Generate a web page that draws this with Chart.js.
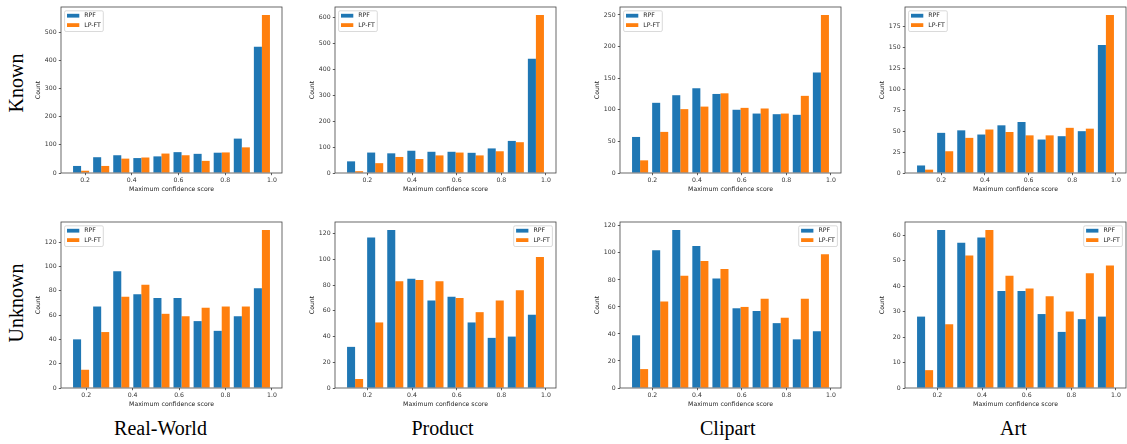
<!DOCTYPE html>
<html>
<head>
<meta charset="utf-8">
<script src="https://cdn.jsdelivr.net/npm/chart.js@4"></script>
<style>
  html, body { margin: 0; padding: 0; background: #fff; overflow: hidden; }
  body { width: 1127px; height: 444px; position: relative; }
  canvas { position: absolute; }
  .lbl {
    position: absolute; width: 140px; height: 20px; line-height: 20px;
    font-family: "Liberation Serif", "Times New Roman", serif; font-size: 20px;
    text-align: center; white-space: nowrap; color: #000;
  }
  .rot { transform: rotate(-90deg); }
</style>
</head>
<body>
<div class="lbl rot" style="left:-53.75px; top:73.3px;">Known</div>
<div class="lbl rot" style="left:-53.75px; top:293.3px;">Unknown</div>
<div class="lbl" style="left:90.5px; top:418px;">Real-World</div>
<div class="lbl" style="left:372.5px; top:418px;">Product</div>
<div class="lbl" style="left:657.8px; top:418px;">Clipart</div>
<div class="lbl" style="left:943.3px; top:418px;">Art</div>

<script>
const seriesNames = ['RPF', 'LP-FT'];
const xTitle = 'Maximum confidence score';
const yTitle = 'Count';
const xTicks = [0.2, 0.4, 0.6, 0.8, 1.0];

// histogram ranges (first bin edge, last bin edge), 10 bins each
const rwKnownRange = [0.14, 1.0];
const rwUnknownRange = [0.135, 1.0];
const productKnownRange = [0.1, 1.0];
const productUnknownRange = [0.1, 1.0];
const clipartKnownRange = [0.1, 1.0];
const clipartUnknownRange = [0.1, 1.0];
const artKnownRange = [0.08, 1.0];
const artUnknownRange = [0.1, 1.0];

// counts per bin
const rwKnownRPF = [25, 56, 63, 53, 59, 74, 68, 72, 122, 448];
const rwKnownLPFT = [8, 25, 51, 55, 69, 63, 43, 73, 91, 561];
const rwUnknownRPF = [40, 67, 96, 77, 74, 74, 55, 47, 59, 82];
const rwUnknownLPFT = [15, 46, 75, 85, 61, 59, 66, 67, 67, 130];
const productKnownRPF = [45, 79, 76, 86, 82, 82, 78, 95, 124, 442];
const productKnownLPFT = [7, 38, 62, 54, 68, 79, 68, 84, 119, 611];
const productUnknownRPF = [32, 117, 123, 85, 68, 71, 51, 39, 40, 57];
const productUnknownLPFT = [7, 51, 83, 84, 83, 70, 59, 68, 76, 102];
const clipartKnownRPF = [57, 111, 123, 134, 125, 100, 94, 93, 92, 159];
const clipartKnownLPFT = [20, 65, 101, 105, 126, 103, 102, 94, 122, 250];
const clipartUnknownRPF = [39, 102, 117, 105, 81, 59, 57, 48, 36, 42];
const clipartUnknownLPFT = [14, 64, 83, 94, 88, 60, 66, 52, 66, 99];
const artKnownRPF = [9, 48, 51, 46, 57, 61, 40, 44, 50, 153];
const artKnownLPFT = [4, 26, 42, 52, 49, 45, 45, 54, 53, 189];
const artUnknownRPF = [28, 62, 57, 59, 38, 38, 29, 22, 27, 28];
const artUnknownLPFT = [7, 25, 52, 62, 44, 39, 36, 30, 45, 48];

// y tick labels
const yTicksRWKnown = [0, 100, 200, 300, 400, 500];
const yTicksRWUnknown = [0, 20, 40, 60, 80, 100, 120];
const yTicksProductKnown = [0, 100, 200, 300, 400, 500, 600];
const yTicksProductUnknown = [0, 20, 40, 60, 80, 100, 120];
const yTicksClipartKnown = [0, 50, 100, 150, 200, 250];
const yTicksClipartUnknown = [0, 20, 40, 60, 80, 100, 120];
const yTicksArtKnown = [0, 25, 50, 75, 100, 125, 150, 175];
const yTicksArtUnknown = [0, 10, 20, 30, 40, 50, 60];

const colors = ['#1f77b4', '#ff7f0e'];
const FONT = "'DejaVu Sans', sans-serif";
const SMALL = 6.2;
const Y_AXIS_W = 26, PAD_TOP = 8, X_AXIS_H = 20, PAD_RIGHT = 1;

// frame = [left, top, right, bottom] of each plot box
const panels = [
  { frame: [61, 7, 282, 173], range: rwKnownRange, a: rwKnownRPF, b: rwKnownLPFT, yTicks: yTicksRWKnown, legend: 'left' },
  { frame: [335, 7, 556, 173], range: productKnownRange, a: productKnownRPF, b: productKnownLPFT, yTicks: yTicksProductKnown, legend: 'left' },
  { frame: [620, 7, 841, 173], range: clipartKnownRange, a: clipartKnownRPF, b: clipartKnownLPFT, yTicks: yTicksClipartKnown, legend: 'left' },
  { frame: [905, 7, 1126, 173], range: artKnownRange, a: artKnownRPF, b: artKnownLPFT, yTicks: yTicksArtKnown, legend: 'left' },
  { frame: [61, 222, 282, 388], range: rwUnknownRange, a: rwUnknownRPF, b: rwUnknownLPFT, yTicks: yTicksRWUnknown, legend: 'left' },
  { frame: [335, 222, 556, 388], range: productUnknownRange, a: productUnknownRPF, b: productUnknownLPFT, yTicks: yTicksProductUnknown, legend: 'right' },
  { frame: [620, 222, 841, 388], range: clipartUnknownRange, a: clipartUnknownRPF, b: clipartUnknownLPFT, yTicks: yTicksClipartUnknown, legend: 'right' },
  { frame: [905, 222, 1126, 388], range: artUnknownRange, a: artUnknownRPF, b: artUnknownLPFT, yTicks: yTicksArtUnknown, legend: 'right' },
];

// box around the axes + matplotlib style legend
const mplFrame = {
  id: 'mplFrame',
  afterDatasetsDraw(chart, args, opts) {
    const ctx = chart.ctx, a = chart.chartArea;
    ctx.save();
    ctx.strokeStyle = '#444';
    ctx.lineWidth = 0.8;
    ctx.strokeRect(a.left, a.top, a.right - a.left, a.bottom - a.top);

    ctx.font = SMALL + 'px ' + FONT;
    const ds = chart.data.datasets;
    const tw = Math.max(...ds.map(d => ctx.measureText(d.label).width));
    const bw = 19.7 + tw + 2.5, bh = 20.7;
    const bx = opts.corner === 'right' ? a.right - 3.6 - bw : a.left + 3.6;
    const by = a.top + 3.8;
    ctx.beginPath();
    ctx.roundRect(bx, by, bw, bh, 1.5);
    ctx.fillStyle = 'rgba(255,255,255,0.8)';
    ctx.fill();
    ctx.strokeStyle = '#d0d0d0';
    ctx.lineWidth = 0.8;
    ctx.stroke();
    ds.forEach((d, i) => {
      const cy = by + 4.9 + i * 9.4;
      ctx.fillStyle = d.backgroundColor;
      ctx.fillRect(bx + 2.4, cy - 1.9, 12.3, 3.8);
      ctx.fillStyle = '#222';
      ctx.textAlign = 'left';
      ctx.textBaseline = 'middle';
      ctx.fillText(d.label, bx + 19.7, cy);
    });
    ctx.restore();
  }
};

panels.forEach(p => {
  const [fl, ft, fr, fb] = p.frame;
  const cv = document.createElement('canvas');
  const w = fr - fl + Y_AXIS_W + PAD_RIGHT;
  const h = fb - ft + PAD_TOP + X_AXIS_H;
  cv.width = w; cv.height = h;
  cv.style.left = (fl - Y_AXIS_W) + 'px';
  cv.style.top = (ft - PAD_TOP) + 'px';
  cv.style.width = w + 'px'; cv.style.height = h + 'px';
  document.body.appendChild(cv);

  const [lo, hi] = p.range;
  const bw = (hi - lo) / p.a.length;
  const centers = p.a.map((_, i) => lo + (i + 0.5) * bw);
  const margin = 0.05 * (hi - lo);
  const ymax = 1.05 * Math.max(...p.a, ...p.b);

  const tickFont = { family: FONT, size: SMALL };
  const grid = { display: true, drawOnChartArea: false, drawTicks: true, tickLength: 2.2, tickColor: '#333', tickWidth: 0.8, offset: false };

  new Chart(cv, {
    type: 'bar',
    data: {
      datasets: [p.a, p.b].map((vals, k) => ({
        label: seriesNames[k],
        backgroundColor: colors[k],
        borderWidth: 0,
        categoryPercentage: 0.8,
        barPercentage: 1.0,
        data: vals.map((v, i) => ({ x: centers[i], y: v })),
      })),
    },
    options: {
      responsive: false,
      animation: false,
      events: [],
      layout: { padding: { top: PAD_TOP, right: PAD_RIGHT, left: 0, bottom: 0 } },
      plugins: {
        legend: { display: false },
        tooltip: { enabled: false },
        mplFrame: { corner: p.legend },
      },
      scales: {
        x: {
          type: 'linear',
          min: lo - margin,
          max: hi + margin,
          offset: false,
          afterBuildTicks: ax => { ax.ticks = xTicks.map(v => ({ value: v })); },
          afterFit: ax => { ax.height = X_AXIS_H; },
          grid: grid,
          border: { display: false },
          ticks: { font: tickFont, color: '#333', padding: 1.3, maxRotation: 0, autoSkip: false, callback: v => Number(v).toFixed(1) },
          title: { display: true, text: xTitle, font: tickFont, color: '#222', padding: 0 },
        },
        y: {
          type: 'linear',
          min: 0,
          max: ymax,
          afterBuildTicks: ax => { ax.ticks = p.yTicks.map(v => ({ value: v })); },
          afterFit: ax => { ax.width = Y_AXIS_W; },
          grid: grid,
          border: { display: false },
          ticks: { font: tickFont, color: '#333', padding: 2.2, autoSkip: false, callback: v => String(v) },
          title: { display: true, text: yTitle, font: tickFont, color: '#222', padding: 0 },
        },
      },
    },
    plugins: [mplFrame],
  });
});
</script>
</body>
</html>
